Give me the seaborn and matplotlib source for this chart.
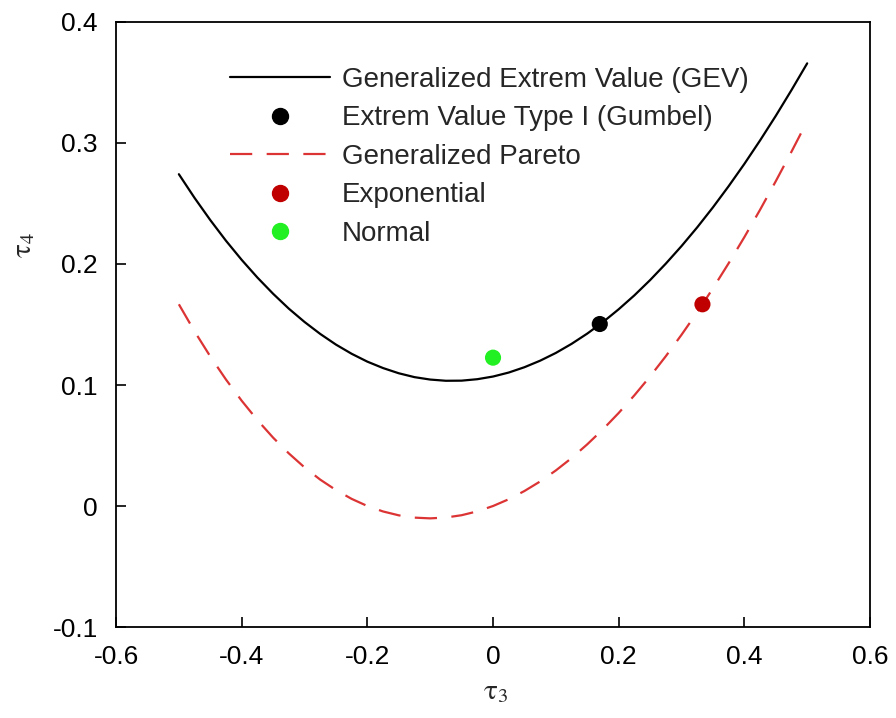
import numpy as np
import pandas as pd
import matplotlib
matplotlib.use("Agg")
import matplotlib.pyplot as plt
import seaborn as sns

# curve values
gev_t3 = [-0.500, -0.475, -0.450, -0.425, -0.400, -0.375, -0.350, -0.325, -0.300, -0.275,
          -0.250, -0.225, -0.200, -0.175, -0.150, -0.125, -0.100, -0.075, -0.050, -0.025,
          0.000, 0.025, 0.050, 0.075, 0.100, 0.125, 0.150, 0.175, 0.200, 0.225,
          0.250, 0.275, 0.300, 0.325, 0.350, 0.375, 0.400, 0.425, 0.450, 0.475, 0.500]
gev_t4 = [0.2742, 0.2546, 0.2363, 0.2192, 0.2034, 0.1888, 0.1754, 0.1631, 0.1521, 0.1422,
          0.1334, 0.1258, 0.1193, 0.1140, 0.1097, 0.1065, 0.1045, 0.1035, 0.1036, 0.1048,
          0.1070, 0.1103, 0.1147, 0.1201, 0.1265, 0.1340, 0.1425, 0.1520, 0.1626, 0.1741,
          0.1867, 0.2003, 0.2148, 0.2303, 0.2468, 0.2643, 0.2827, 0.3021, 0.3224, 0.3437, 0.3658]
gpa_t3 = [-0.500, -0.475, -0.450, -0.425, -0.400, -0.375, -0.350, -0.325, -0.300, -0.275,
          -0.250, -0.225, -0.200, -0.175, -0.150, -0.125, -0.100, -0.075, -0.050, -0.025,
          0.000, 0.025, 0.050, 0.075, 0.100, 0.125, 0.150, 0.175, 0.200, 0.225,
          0.250, 0.275, 0.300, 0.325, 0.350, 0.375, 0.400, 0.425, 0.450, 0.475, 0.490]
gpa_t4 = [0.1667, 0.1443, 0.1236, 0.1045, 0.0870, 0.0710, 0.0565, 0.0435, 0.0319, 0.0218,
          0.0132, 0.0059, 0.0000, -0.0045, -0.0077, -0.0096, -0.0102, -0.0095, -0.0076, -0.0044,
          0.0000, 0.0056, 0.0124, 0.0203, 0.0294, 0.0396, 0.0510, 0.0634, 0.0769, 0.0915,
          0.1071, 0.1238, 0.1415, 0.1602, 0.1799, 0.2006, 0.2222, 0.2448, 0.2684, 0.2928, 0.3079]

point_names = ["Extrem Value Type I (Gumbel)", "Exponential", "Normal"]
point_t3 = [0.1699, 0.3333, 0.0]
point_t4 = [0.1504, 0.1667, 0.1226]
point_colors = ["#000000", "#c00000", "#22f022"]

sns.set_theme(style="ticks", rc={"xtick.direction": "in", "ytick.direction": "in"})
plt.rcParams["font.family"] = ["Liberation Sans", "DejaVu Sans"]
plt.rcParams["mathtext.fontset"] = "stix"

fig = plt.figure(figsize=(8.96, 7.18), dpi=100)
ax = fig.add_axes([0.1295, 0.1267, 0.8415, 0.8427])

sns.lineplot(x=gev_t3, y=gev_t4, ax=ax, color="black", lw=1.6,
             label="Generalized Extrem Value (GEV)", sort=False)
ax.plot([], [], marker="o", ls="none", color=point_colors[0], ms=11.5, label=point_names[0])
sns.lineplot(x=gpa_t3, y=gpa_t4, ax=ax, color="#dc3434", lw=1.6, sort=False,
             label="Generalized Pareto").lines[-1].set_dashes([10, 6.5])
for name, c in zip(point_names[1:], point_colors[1:]):
    ax.plot([], [], marker="o", ls="none", color=c, ms=11.5, label=name)

pts = pd.DataFrame({"t3": point_t3, "t4": point_t4, "name": point_names})
sns.scatterplot(data=pts, x="t3", y="t4", hue="name", palette=point_colors,
                s=135, edgecolor="none", ax=ax, legend=False, zorder=5)

ax.set_xlim(-0.6, 0.6)
ax.set_ylim(-0.1, 0.4)
ax.set_xticks([-0.6, -0.4, -0.2, 0, 0.2, 0.4, 0.6])
ax.set_xticklabels(["-0.6", "-0.4", "-0.2", "0", "0.2", "0.4", "0.6"])
ax.set_yticks([-0.1, 0, 0.1, 0.2, 0.3, 0.4])
ax.set_yticklabels(["-0.1", "0", "0.1", "0.2", "0.3", "0.4"])
ax.tick_params(axis="both", which="major", direction="in", length=7, width=1.2,
               labelsize=19, pad=13, colors="black")
for s in ax.spines.values():
    s.set_linewidth(1.3)
    s.set_color("black")
ax.set_xlabel(r"$\mathrm{\tau}_3$", fontsize=21)
ax.set_ylabel(r"$\mathrm{\tau}_4$", fontsize=21, rotation=90)
ax.xaxis.set_label_coords(0.503, -0.082)
ax.yaxis.set_label_coords(-0.105, 0.631)

ax.legend(loc="upper left", bbox_to_anchor=(0.137, 0.944), frameon=False, fontsize=20,
          handlelength=3.6, handletextpad=0.4, labelspacing=0.45, borderaxespad=0)

fig.savefig("out.png", dpi=100)
